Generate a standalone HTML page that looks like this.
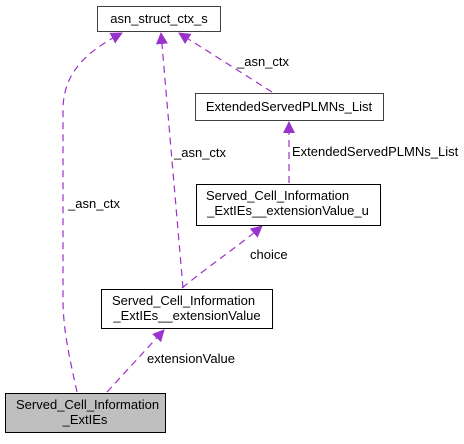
<!DOCTYPE html>
<html><head><style>
body{margin:0;background:#fff;}
svg text{font-family:"Liberation Sans",Arial,sans-serif;font-size:13px;fill:#000;}
</style></head><body>
<svg width="464" height="439" xmlns="http://www.w3.org/2000/svg">
<defs><marker id="a" markerWidth="12" markerHeight="12" refX="11" refY="6" orient="auto" markerUnits="userSpaceOnUse"><path d="M0,0 L12,6 L0,12 z" fill="#9a32cd"/></marker></defs>
<g fill="none" stroke="#9a32cd" stroke-width="1.2" stroke-dasharray="7,5" marker-end="url(#a)">
<path d="M77,392 C70,360 63,330 63,300 L63,110 C63,70 90,50 122,33"/>
<path d="M183,288 L161,33"/>
<path d="M272,92 L179,33"/>
<path d="M289,183 L289,122"/>
<path d="M182,288 C210,265 240,245 262,226"/>
<path d="M107,392 L164,330"/>
</g>
<rect x="97.5" y="6.5" width="123" height="25" fill="#fff" stroke="#404040"/>
<text x="159" y="23" text-anchor="middle">asn_struct_ctx_s</text>
<rect x="195.5" y="93.5" width="188" height="27" fill="#fff" stroke="#404040"/>
<text x="289" y="111" text-anchor="middle">ExtendedServedPLMNs_List</text>
<rect x="196.5" y="184.5" width="184" height="41" fill="#fff" stroke="#000"/>
<text x="206" y="200">Served_Cell_Information</text>
<text x="288" y="215" text-anchor="middle">_ExtIEs__extensionValue_u</text>
<rect x="101.5" y="289.5" width="171" height="39" fill="#fff" stroke="#000"/>
<text x="112" y="305">Served_Cell_Information</text>
<text x="187" y="320" text-anchor="middle">_ExtIEs__extensionValue</text>
<rect x="5.5" y="393.5" width="160" height="39" fill="#bfbfbf" stroke="#000"/>
<text x="16" y="409">Served_Cell_Information</text>
<text x="85" y="424" text-anchor="middle">_ExtIEs</text>
<text x="68" y="208">_asn_ctx</text>
<text x="174" y="157">_asn_ctx</text>
<text x="237" y="66">_asn_ctx</text>
<text x="292" y="156">ExtendedServedPLMNs_List</text>
<text x="250" y="259">choice</text>
<text x="147" y="363">extensionValue</text>
</svg>
</body></html>
